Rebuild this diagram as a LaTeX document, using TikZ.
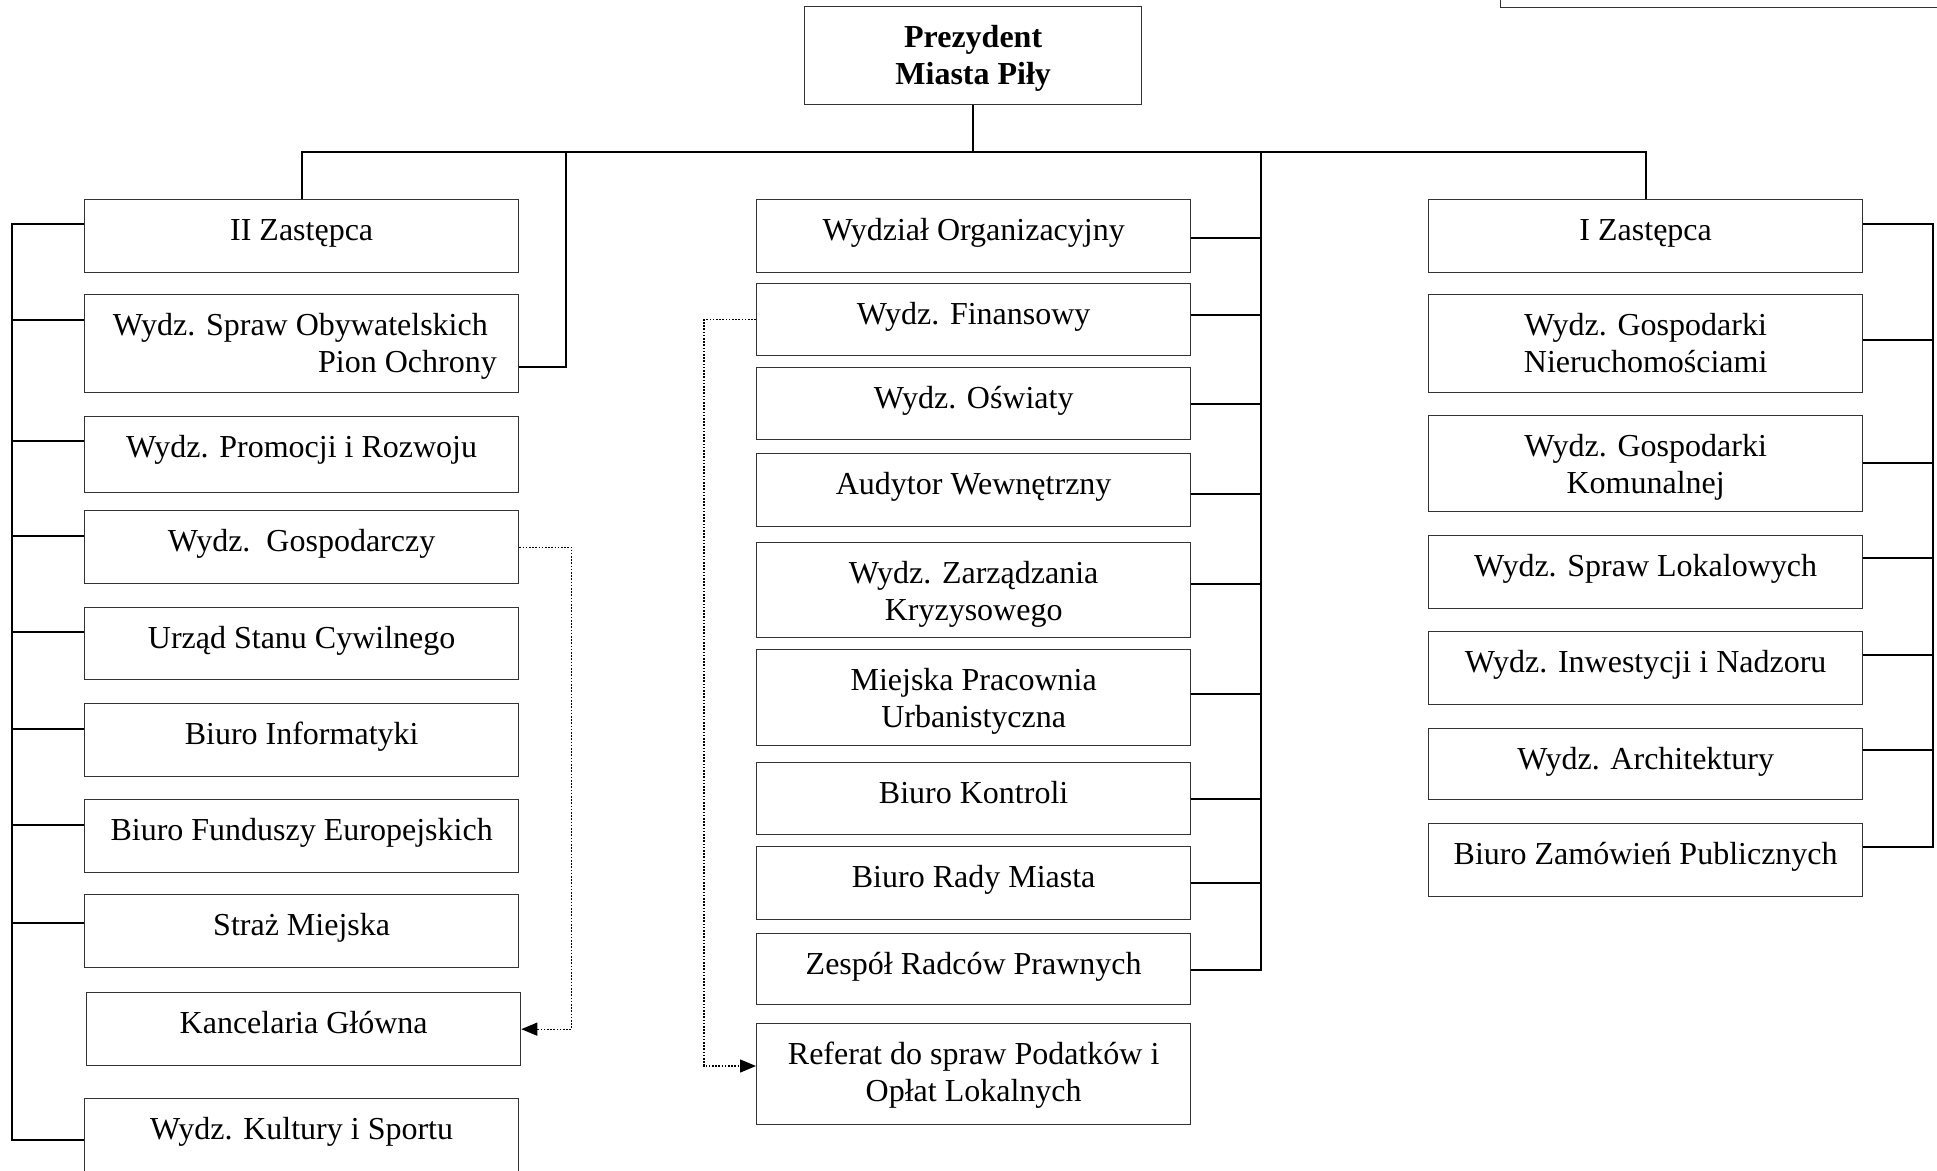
\documentclass[tikz,border=0pt]{standalone}
\usepackage{fontspec}
\setmainfont{Liberation Serif}
\usetikzlibrary{arrows.meta,calc}
\tikzset{
  orgframe/.style={draw=black!80, line width=1.3pt, fill=white, inner sep=0pt, anchor=north west},
  orgtext/.style={inner sep=0pt, anchor=north, align=center, font=\fontsize{32}{37}\selectfont},
  link/.style={draw=black, line width=2pt},
  dotlink/.style={draw=black, line width=1.3pt, dash pattern=on 1.6pt off 1.6pt, -{Triangle[length=16pt,width=13pt]}},
}
\newcommand{\orgbox}[6]{%
  \node[orgframe, minimum width={#4-#2}, minimum height={#5-#3}] (#1) at (#2,#3) {};
  \node[orgtext] (#1t) at ($(#1.north)+(0,15)$) {\strut #6};
}
\begin{document}
\begin{tikzpicture}[x=1pt,y=-1pt]
\useasboundingbox (0,0) rectangle (1937,1170);
\clip (0,0) rectangle (1937,1170);
\fill[white] (0,0) rectangle (1937,1170);

% partial box at top right
\node[orgframe, anchor=south west, minimum width=600, minimum height=100] (TR) at (1500,8) {};

% president
\orgbox{P}{804}{6}{1141}{104}{\textbf{Prezydent}\\\textbf{Miasta Piły}}

% left column
\orgbox{L1}{84}{199}{518}{272}{II Zastępca}
\node[orgframe, minimum width=434, minimum height=98] (L2) at (84,294) {};
\node[orgtext, align=right, anchor=north east] (L2t) at (497,309) {\strut Wydz. Spraw Obywatelskich\hspace*{9pt}\\Pion Ochrony};
\orgbox{L3}{84}{416}{518}{492}{Wydz. Promocji i Rozwoju}
\orgbox{L4}{84}{510}{518}{583}{Wydz.\ \ Gospodarczy}
\orgbox{L5}{84}{607}{518}{679}{Urząd Stanu Cywilnego}
\orgbox{L6}{84}{703}{518}{776}{Biuro Informatyki}
\orgbox{L7}{84}{799}{518}{872}{Biuro Funduszy Europejskich}
\orgbox{L8}{84}{894}{518}{967}{Straż Miejska}
\orgbox{L9}{86}{992}{520}{1065}{Kancelaria Główna}
\orgbox{L10}{84}{1098}{518}{1200}{Wydz. Kultury i Sportu}

% middle column
\orgbox{M1}{756}{199}{1190}{272}{Wydział Organizacyjny}
\orgbox{M2}{756}{283}{1190}{355}{Wydz. Finansowy}
\orgbox{M3}{756}{367}{1190}{439}{Wydz. Oświaty}
\orgbox{M4}{756}{453}{1190}{526}{Audytor Wewnętrzny}
\orgbox{M5}{756}{542}{1190}{637}{Wydz. Zarządzania\\Kryzysowego}
\orgbox{M6}{756}{649}{1190}{745}{Miejska Pracownia\\Urbanistyczna}
\orgbox{M7}{756}{762}{1190}{834}{Biuro Kontroli}
\orgbox{M8}{756}{846}{1190}{919}{Biuro Rady Miasta}
\orgbox{M9}{756}{933}{1190}{1004}{Zespół Radców Prawnych}
\orgbox{M10}{756}{1023}{1190}{1124}{Referat do spraw Podatków i\\Opłat Lokalnych}

% right column
\orgbox{R1}{1428}{199}{1862}{272}{I Zastępca}
\orgbox{R2}{1428}{294}{1862}{392}{Wydz. Gospodarki\\Nieruchomościami}
\orgbox{R3}{1428}{415}{1862}{511}{Wydz. Gospodarki\\Komunalnej}
\orgbox{R4}{1428}{535}{1862}{608}{Wydz. Spraw Lokalowych}
\orgbox{R5}{1428}{631}{1862}{704}{Wydz. Inwestycji i Nadzoru}
\orgbox{R6}{1428}{728}{1862}{799}{Wydz. Architektury}
\orgbox{R7}{1428}{823}{1862}{896}{Biuro Zamówień Publicznych}

% main bus
\coordinate (busL) at (L1.north |- 0,152);
\coordinate (busR) at (R1.north |- 0,152);
\draw[link] (P.south) -- (P.south |- busL);
\draw[link] (L1.north) -- (busL) -- (busR) -- (R1.north);
\coordinate (dropA) at (566,152);
\draw[link] (dropA) |- (L2.east |- 0,367);
\coordinate (mbus) at (1261,152);
\draw[link] (mbus) |- (M9.east |- 0,970);
\foreach \n/\yy in {M1/238, M2/315, M3/404, M4/494, M5/584, M6/694, M7/799, M8/883}
  \draw[link] (\n.east |- 0,\yy) -- (mbus |- 0,\yy);

% left bus
\coordinate (lbus) at (12,0);
\draw[link] (L1.west |- 0,224) -| (lbus |- 0,1140) -- (L10.west |- 0,1140);
\foreach \n/\yy in {L2/320, L3/441, L4/536, L5/632, L6/729, L7/825, L8/923}
  \draw[link] (\n.west |- 0,\yy) -- (lbus |- 0,\yy);

% right bus
\coordinate (rbus) at (1933,0);
\draw[link] (R1.east |- 0,224) -| (rbus |- 0,847) -- (R7.east |- 0,847);
\foreach \n/\yy in {R2/340, R3/463, R4/558, R5/655, R6/750}
  \draw[link] (\n.east |- 0,\yy) -- (rbus |- 0,\yy);

% dotted links
\draw[dotlink] (L4.east) -- ++(52,0) |- (L9.east);
\draw[dotlink] (M2.west) -- ++(-52,0) |- (M10.west |- 0,1066);
\end{tikzpicture}
\end{document}
